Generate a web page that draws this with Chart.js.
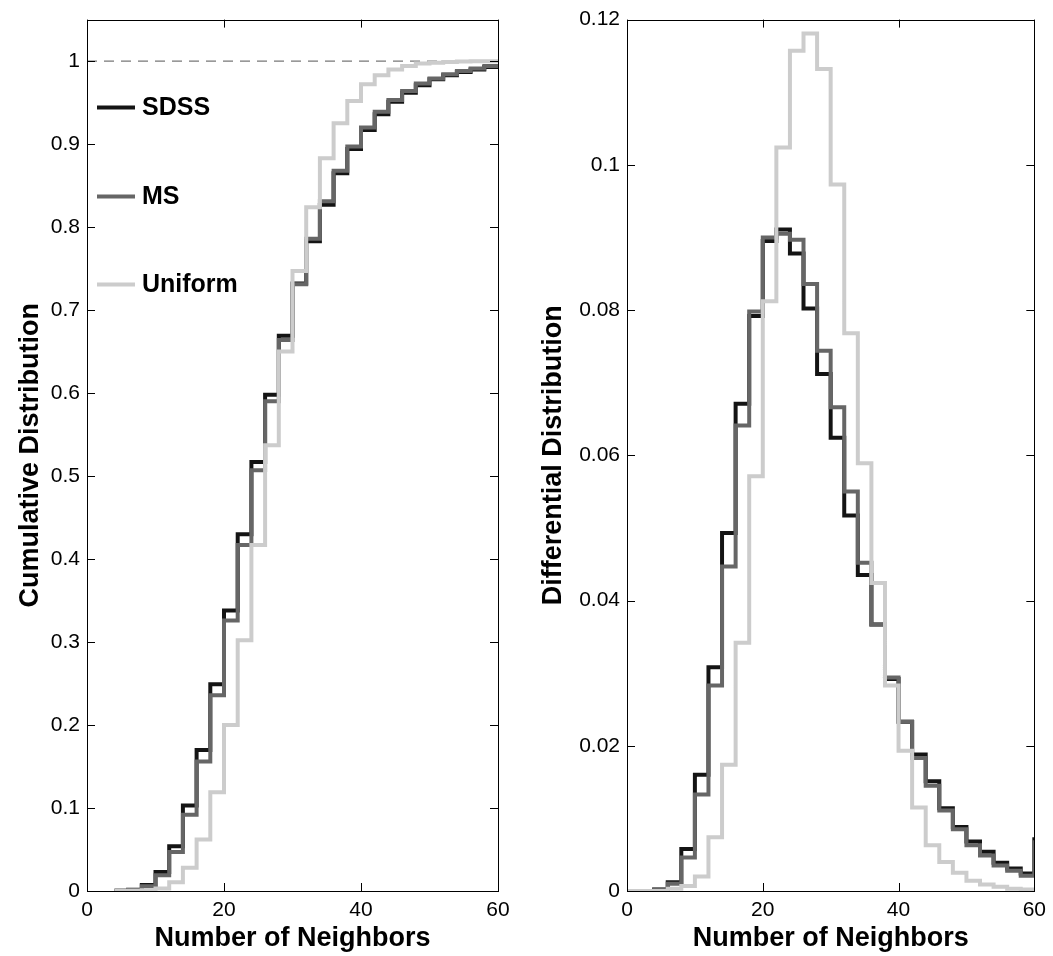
<!DOCTYPE html>
<html>
<head>
<meta charset="utf-8">
<script src="https://cdn.jsdelivr.net/npm/chart.js@4.4.1/dist/chart.umd.min.js"></script>
<style>
  body { margin: 0; background: #fff; }
  canvas { position: absolute; top: 0; }
  #cumChart { left: 0; }
  #diffChart { left: 530px; }
</style>
</head>
<body>
<canvas id="cumChart" width="520" height="956"></canvas>
<canvas id="diffChart" width="523" height="956"></canvas>
<script>
// bins are 2 neighbours wide, each value holds from its bin start to the next one
const binWidth = 2;

// left panel: cumulative distribution
const cumBins = [4, 6, 8, 10, 12, 14, 16, 18, 20, 22, 24, 26, 28, 30, 32, 34, 36, 38, 40, 42, 44, 46, 48, 50, 52, 54, 56, 58];
const cumSDSS = [0.0002, 0.0014, 0.0072, 0.023, 0.054, 0.103, 0.170, 0.249, 0.338, 0.430, 0.517, 0.598, 0.669, 0.732, 0.783, 0.827, 0.865, 0.894, 0.917, 0.936, 0.951, 0.962, 0.971, 0.978, 0.983, 0.987, 0.990, 0.993];
const cumMS = [0.0002, 0.0012, 0.0058, 0.019, 0.047, 0.092, 0.156, 0.236, 0.326, 0.417, 0.507, 0.590, 0.664, 0.731, 0.786, 0.831, 0.868, 0.897, 0.920, 0.939, 0.953, 0.964, 0.973, 0.979, 0.984, 0.988, 0.991, 0.994];
const cumUniform = [0, 0.0003, 0.001, 0.003, 0.0104, 0.028, 0.062, 0.119, 0.200, 0.302, 0.417, 0.537, 0.650, 0.747, 0.824, 0.883, 0.925, 0.952, 0.972, 0.983, 0.990, 0.994, 0.997, 0.998, 0.999, 0.9995, 0.9997, 0.9999];
const unityLevel = 1;

// right panel: differential distribution (last bin sits on the x = 60 edge)
const diffBins = [0, 2, 4, 6, 8, 10, 12, 14, 16, 18, 20, 22, 24, 26, 28, 30, 32, 34, 36, 38, 40, 42, 44, 46, 48, 50, 52, 54, 56, 58, 60];
const diffSDSS = [0, 0, 0.0002, 0.0012, 0.0058, 0.0160, 0.0308, 0.0493, 0.0671, 0.0792, 0.0895, 0.0911, 0.0878, 0.0802, 0.0712, 0.0624, 0.0517, 0.0435, 0.0367, 0.0292, 0.0233, 0.0188, 0.0151, 0.0114, 0.0088, 0.0068, 0.0054, 0.0039, 0.0031, 0.0024, 0.0074];
const diffMS = [0, 0, 0.0002, 0.0010, 0.0046, 0.0133, 0.0283, 0.0447, 0.0641, 0.0798, 0.0900, 0.0905, 0.0897, 0.0836, 0.0744, 0.0666, 0.0550, 0.0452, 0.0367, 0.0294, 0.0233, 0.0183, 0.0145, 0.0111, 0.0085, 0.0063, 0.0049, 0.0035, 0.0028, 0.0021, 0.0070];
const diffUniform = [0, 0, 0, 0.0003, 0.0007, 0.0020, 0.0074, 0.0174, 0.0342, 0.0571, 0.0812, 0.1024, 0.1157, 0.1181, 0.1132, 0.0973, 0.0768, 0.0589, 0.0424, 0.0283, 0.0193, 0.0115, 0.0063, 0.0040, 0.0025, 0.0014, 0.0009, 0.0006, 0.0003, 0.0002, 0];

const xTicks = [0, 20, 40, 60];
const seriesNames = ['SDSS', 'MS', 'Uniform'];
const seriesColors = ['#141414', '#666666', '#cccccc'];

Chart.defaults.font.family = '"Liberation Sans", Arial, Helvetica, sans-serif';
Chart.defaults.color = '#000';

function stepData(bins, values) {
    const pts = bins.map((b, i) => ({ x: b, y: values[i] }));
    pts.push({ x: bins[bins.length - 1] + binWidth, y: values[values.length - 1] });
    return pts;
}

function stepSet(label, bins, values, idx) {
    return {
        label: label,
        data: stepData(bins, values),
        stepped: 'before',
        borderColor: seriesColors[idx],
        borderWidth: 4,
        borderCapStyle: 'butt',
        borderJoinStyle: 'miter',
        pointRadius: 0,
        fill: false,
        order: 3 - idx
    };
}

// matlab style box with inward ticks on all sides
const boxPlugin = {
    id: 'box',
    afterDatasetsDraw(chart) {
        const ctx = chart.ctx;
        const a = chart.chartArea;
        const tl = 8;
        ctx.save();
        ctx.strokeStyle = '#000';
        ctx.lineWidth = 1;
        ctx.strokeRect(Math.round(a.left) + 0.5, Math.round(a.top) + 0.5, Math.round(a.width), Math.round(a.height));
        ctx.beginPath();
        chart.scales.x.ticks.forEach(t => {
            const px = Math.round(chart.scales.x.getPixelForValue(t.value)) + 0.5;
            ctx.moveTo(px, a.bottom); ctx.lineTo(px, a.bottom - tl);
            ctx.moveTo(px, a.top); ctx.lineTo(px, a.top + tl);
        });
        chart.scales.y.ticks.forEach(t => {
            const py = Math.round(chart.scales.y.getPixelForValue(t.value)) + 0.5;
            ctx.moveTo(a.left, py); ctx.lineTo(a.left + tl, py);
            ctx.moveTo(a.right, py); ctx.lineTo(a.right - tl, py);
        });
        ctx.stroke();
        ctx.restore();
    }
};

const legendPlugin = {
    id: 'inLegend',
    afterDatasetsDraw(chart) {
        if (!chart.options.plugins.inLegend || !chart.options.plugins.inLegend.show) return;
        const ctx = chart.ctx;
        const a = chart.chartArea;
        const rows = [88, 177, 265];
        ctx.save();
        ctx.font = 'bold 25px "Liberation Sans", Arial, sans-serif';
        ctx.textBaseline = 'middle';
        seriesNames.forEach((name, i) => {
            const y = a.top + rows[i];
            ctx.strokeStyle = seriesColors[i];
            ctx.lineWidth = 4;
            ctx.beginPath();
            ctx.moveTo(a.left + 10, y);
            ctx.lineTo(a.left + 48, y);
            ctx.stroke();
            ctx.fillStyle = '#000';
            ctx.fillText(name, a.left + 55, y + 1);
        });
        ctx.restore();
    }
};

function axisOptions(yMax, yStep, yTitle, yWidth, titlePad) {
    return {
        x: {
            type: 'linear',
            min: 0,
            max: 60,
            afterBuildTicks: s => { s.ticks = xTicks.map(v => ({ value: v })); },
            ticks: { font: { size: 21 }, padding: 7, callback: v => String(v) },
            grid: { display: false, drawTicks: false },
            border: { display: false },
            title: { display: true, text: 'Number of Neighbors', font: { size: 27, weight: 'bold' }, padding: { top: 0, bottom: 1 } },
            afterFit: s => { s.height = 65; }
        },
        y: {
            min: 0,
            max: yMax,
            ticks: {
                stepSize: yStep,
                includeBounds: false,
                font: { size: 21 },
                padding: 7,
                callback: v => String(+v.toFixed(3))
            },
            grid: { display: false, drawTicks: false },
            border: { display: false },
            title: { display: true, text: yTitle, font: { size: 27, weight: 'bold' }, padding: { top: titlePad, bottom: 0 } },
            afterFit: s => { s.width = yWidth; }
        }
    };
}

const cumChart = new Chart(document.getElementById('cumChart'), {
    type: 'line',
    data: {
        datasets: [
            stepSet('SDSS', cumBins, cumSDSS, 0),
            stepSet('MS', cumBins, cumMS, 1),
            stepSet('Uniform', cumBins, cumUniform, 2),
            {
                label: 'unity',
                data: xTicks.filter((v, i) => i === 0 || i === xTicks.length - 1).map(v => ({ x: v, y: unityLevel })),
                borderColor: '#555555',
                borderWidth: 1,
                borderDash: [10, 7],
                pointRadius: 0,
                order: 5
            }
        ]
    },
    options: {
        responsive: false,
        devicePixelRatio: 1,
        animation: false,
        layout: { padding: { top: 15, right: 22, left: 0, bottom: 0 } },
        plugins: { legend: { display: false }, tooltip: { enabled: false }, inLegend: { show: true } },
        scales: axisOptions(1.05, 0.1, 'Cumulative Distribution', 87, 14)
    },
    plugins: [boxPlugin, legendPlugin]
});

const diffChart = new Chart(document.getElementById('diffChart'), {
    type: 'line',
    data: {
        datasets: [
            stepSet('SDSS', diffBins, diffSDSS, 0),
            stepSet('MS', diffBins, diffMS, 1),
            stepSet('Uniform', diffBins, diffUniform, 2)
        ]
    },
    options: {
        responsive: false,
        devicePixelRatio: 1,
        animation: false,
        layout: { padding: { top: 15, right: 15, left: 0, bottom: 0 } },
        plugins: { legend: { display: false }, tooltip: { enabled: false }, inLegend: { show: false } },
        scales: axisOptions(0.12, 0.02, 'Differential Distribution', 97, 7)
    },
    plugins: [boxPlugin, legendPlugin]
});
</script>
</body>
</html>
